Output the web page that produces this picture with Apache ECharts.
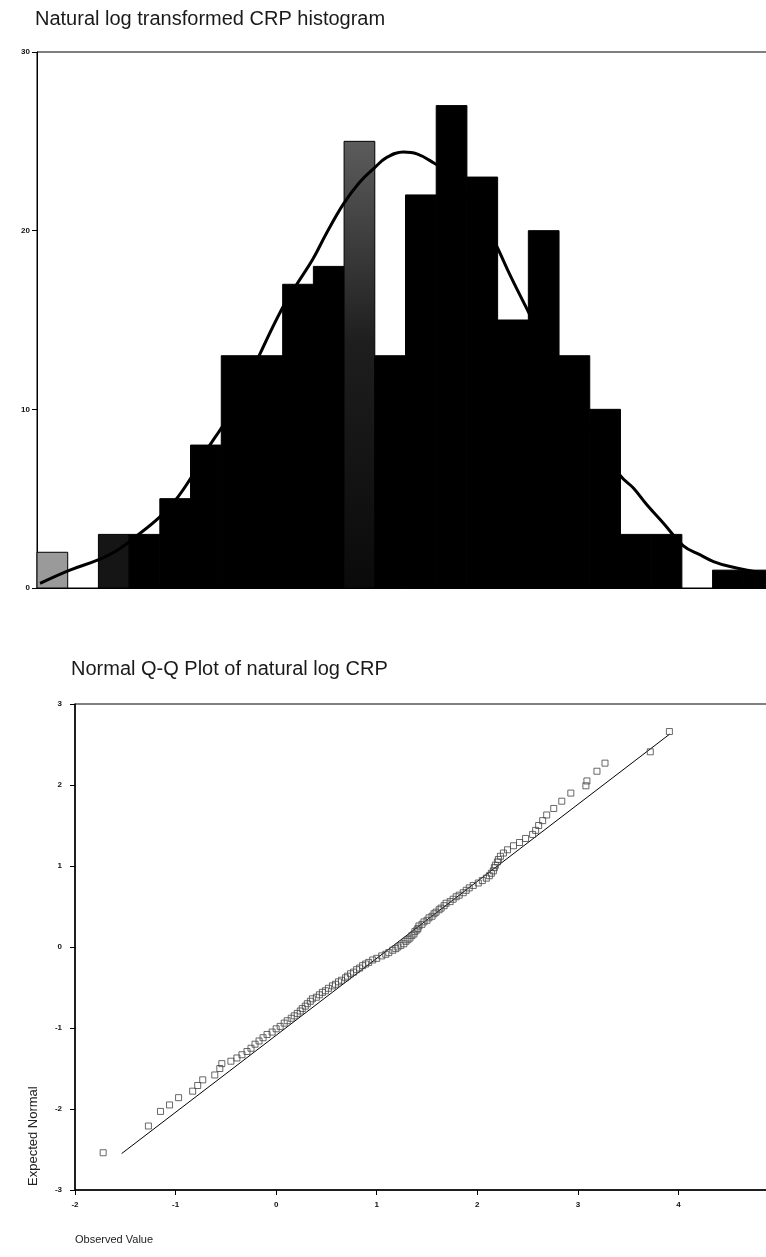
<!DOCTYPE html>
<html><head><meta charset="utf-8">
<script src="https://cdn.jsdelivr.net/npm/echarts@6/dist/echarts.min.js"></script>
<style>html,body{margin:0;padding:0;background:#fff}#c{width:766px;height:1257px}</style>
</head><body><div id="c"></div>
<script>
// ---------- data ----------
const histTitle = 'Natural log transformed CRP histogram';
const qqTitle = 'Normal Q-Q Plot of natural log CRP';
const qqYName = 'Expected Normal';
const qqXName = 'Observed Value';

// histogram: counts per bin (bins numbered 0..23, left to right)
const binCounts = [2,0,3,3,5,8,13,13,17,18,25,13,22,27,23,15,20,13,10,3,3,0,1,1];
const histYTicks = [0,10,20,30];

// fitted normal curve (x in bin units, y = frequency)
const curveX = [0.10,1.07,1.99,2.6,3.36,4.01,4.50,5.01,5.47,6.02,6.6,7.26,7.97,8.46,8.98,9.44,9.98,10.5,10.98,11.39,11.93,12.37,12.91,13.5,14.4,14.95,15.41,15.90,17.0,18.0,18.99,19.42,19.86,20.40,21.05,21.60,22.03,22.57,23.75];
const curveY = [0.26,1.0,1.57,2.1,3.07,4.0,4.9,6.16,7.57,9.0,10.6,13.1,15.6,17.0,18.4,19.9,21.5,22.7,23.5,24.1,24.4,24.3,23.8,23.1,21.0,19.2,17.5,15.8,12.0,9.0,6.3,5.6,4.66,3.63,2.36,1.85,1.48,1.2,0.8];

// Q-Q plot
const qqXTicks = [-2,-1,0,1,2,3,4];
const qqYTicks = [-3,-2,-1,0,1,2,3];
const qqObserved = [-1.72,-1.27,-1.15,-1.06,-0.97,-0.83,-0.78,-0.73,-0.61,-0.56,-0.54,-0.45,-0.39,-0.34,-0.29,-0.25,-0.21,-0.17,-0.13,-0.09,-0.04,0.00,0.04,0.08,0.11,0.15,0.18,0.21,0.24,0.26,0.29,0.31,0.34,0.36,0.40,0.43,0.46,0.49,0.52,0.56,0.59,0.62,0.65,0.69,0.71,0.74,0.77,0.80,0.83,0.86,0.89,0.92,0.96,1.00,1.05,1.09,1.12,1.16,1.19,1.21,1.24,1.27,1.29,1.31,1.33,1.35,1.37,1.38,1.40,1.41,1.42,1.45,1.47,1.50,1.52,1.55,1.57,1.59,1.62,1.64,1.67,1.69,1.73,1.76,1.79,1.82,1.86,1.89,1.92,1.96,2.01,2.05,2.09,2.12,2.14,2.16,2.17,2.18,2.20,2.21,2.23,2.26,2.30,2.36,2.42,2.48,2.55,2.58,2.61,2.65,2.69,2.76,2.84,2.93,3.08,3.09,3.19,3.27,3.72,3.91];
const qqExpected = [-2.54,-2.21,-2.03,-1.95,-1.86,-1.78,-1.71,-1.64,-1.58,-1.50,-1.44,-1.41,-1.37,-1.33,-1.29,-1.25,-1.20,-1.16,-1.12,-1.08,-1.05,-1.01,-0.98,-0.94,-0.91,-0.88,-0.85,-0.82,-0.79,-0.76,-0.73,-0.70,-0.67,-0.64,-0.62,-0.59,-0.56,-0.54,-0.51,-0.48,-0.46,-0.43,-0.41,-0.38,-0.36,-0.33,-0.31,-0.28,-0.26,-0.23,-0.21,-0.19,-0.16,-0.14,-0.11,-0.09,-0.07,-0.04,-0.02,0.00,0.02,0.04,0.07,0.09,0.11,0.14,0.16,0.19,0.21,0.23,0.26,0.28,0.31,0.33,0.36,0.38,0.41,0.43,0.46,0.48,0.51,0.54,0.56,0.59,0.62,0.64,0.67,0.70,0.73,0.76,0.79,0.82,0.85,0.88,0.91,0.94,0.98,1.01,1.05,1.08,1.12,1.16,1.20,1.25,1.29,1.34,1.39,1.44,1.50,1.56,1.63,1.71,1.80,1.90,1.99,2.05,2.17,2.27,2.41,2.66];
const qqLineX = [-1.536, 3.915];
const qqLineY = [-2.55, 2.63];

// ---------- styles ----------
const barFillByBin = {
  0: '#9a9a9a',
  2: '#151515',
  10: {type: 'linear', x: 0, y: 0, x2: 0, y2: 1, colorStops: [{offset: 0, color: '#5c5c5c'}, {offset: 0.45, color: '#1e1e1e'}, {offset: 1, color: '#0a0a0a'}]}
};
const tickFont = {fontFamily: 'Liberation Sans', fontSize: 8, fontWeight: 'bold', color: '#111'};
const titleFont = {fontFamily: 'Liberation Sans', fontSize: 20, fontWeight: 'normal', color: '#1a1a1a'};

const chart = echarts.init(document.getElementById('c'), null, {renderer: 'canvas'});

const histData = binCounts.map((c, i) => [i, i + 1, c]);
const curveData = curveX.map((x, i) => [x, curveY[i]]);
const qqData = qqObserved.map((x, i) => [x, qqExpected[i]]);
const qqLineData = qqLineX.map((x, i) => [x, qqLineY[i]]);

chart.setOption({
  animation: false,
  backgroundColor: '#fff',
  title: [
    {text: histTitle, left: 35, top: 9, padding: 0, textStyle: titleFont},
    {text: qqTitle, left: 71, top: 659, padding: 0, textStyle: titleFont}
  ],
  grid: [
    {left: 37, top: 52, width: 737, height: 536, show: true, borderColor: '#000', borderWidth: 1, containLabel: false, outerBoundsMode: 'none'},
    {left: 75, top: 704, width: 704, height: 486, show: true, borderColor: '#000', borderWidth: 1, containLabel: false, outerBoundsMode: 'none'}
  ],
  xAxis: [
    {type: 'value', gridIndex: 0, min: 0, max: binCounts.length, show: true,
      axisLine: {show: true, lineStyle: {color: '#000', width: 1}}, axisTick: {show: false},
      axisLabel: {show: false}, splitLine: {show: false}},
    {type: 'value', gridIndex: 1, min: qqXTicks[0], max: 5, interval: 1,
      axisLine: {show: true, onZero: false, lineStyle: {color: '#000', width: 1.5}},
      axisTick: {show: true, length: 5, lineStyle: {color: '#000'}},
      axisLabel: Object.assign({margin: 11, formatter: v => (v <= qqXTicks[qqXTicks.length - 1] ? String(v) : '')}, tickFont),
      splitLine: {show: false}}
  ],
  yAxis: [
    {type: 'value', gridIndex: 0, min: histYTicks[0], max: histYTicks[histYTicks.length - 1], interval: histYTicks[1] - histYTicks[0],
      axisLine: {show: true, lineStyle: {color: '#000', width: 1}},
      axisTick: {show: true, length: 5, lineStyle: {color: '#000'}},
      axisLabel: Object.assign({margin: 7}, tickFont), splitLine: {show: false}},
    {type: 'value', gridIndex: 1, min: qqYTicks[0], max: qqYTicks[qqYTicks.length - 1], interval: 1,
      axisLine: {show: true, onZero: false, lineStyle: {color: '#000', width: 1.5}},
      axisTick: {show: true, length: 5, lineStyle: {color: '#000'}},
      axisLabel: Object.assign({margin: 13}, tickFont), splitLine: {show: false}}
  ],
  series: [
    {type: 'custom', xAxisIndex: 0, yAxisIndex: 0, data: histData, z: 2,
      renderItem: function (params, api) {
        const c = api.value(2);
        if (!c) return null;
        const p0 = api.coord([api.value(0), c]);
        const p1 = api.coord([api.value(1), 0]);
        const i = params.dataIndex;
        const fill = barFillByBin[i] || '#000';
        return {type: 'rect', shape: {x: p0[0], y: p0[1], width: p1[0] - p0[0], height: p1[1] - p0[1]},
          style: {fill: fill, stroke: '#000', lineWidth: 1}};
      }},
    {type: 'line', xAxisIndex: 0, yAxisIndex: 0, data: curveData, smooth: 0.4, showSymbol: false, z: 5,
      lineStyle: {color: '#000', width: 3}},
    {type: 'line', xAxisIndex: 1, yAxisIndex: 1, data: qqLineData, showSymbol: false, z: 3,
      lineStyle: {color: '#000', width: 1}},
    {type: 'scatter', xAxisIndex: 1, yAxisIndex: 1, data: qqData, symbol: 'rect', symbolSize: 6, z: 4,
      itemStyle: {color: 'rgba(255,255,255,0)', borderColor: '#444', borderWidth: 1}}
  ],
  graphic: [
    {type: 'text', x: 33, y: 1186, rotation: Math.PI / 2,
      style: {text: qqYName, fontFamily: 'Liberation Sans', fontSize: 13, fill: '#222', textAlign: 'left', textVerticalAlign: 'middle'}},
    {type: 'text', x: 75, y: 1240,
      style: {text: qqXName, fontFamily: 'Liberation Sans', fontSize: 11, fill: '#222', textAlign: 'left', textVerticalAlign: 'middle'}}
  ]
});
</script></body></html>
